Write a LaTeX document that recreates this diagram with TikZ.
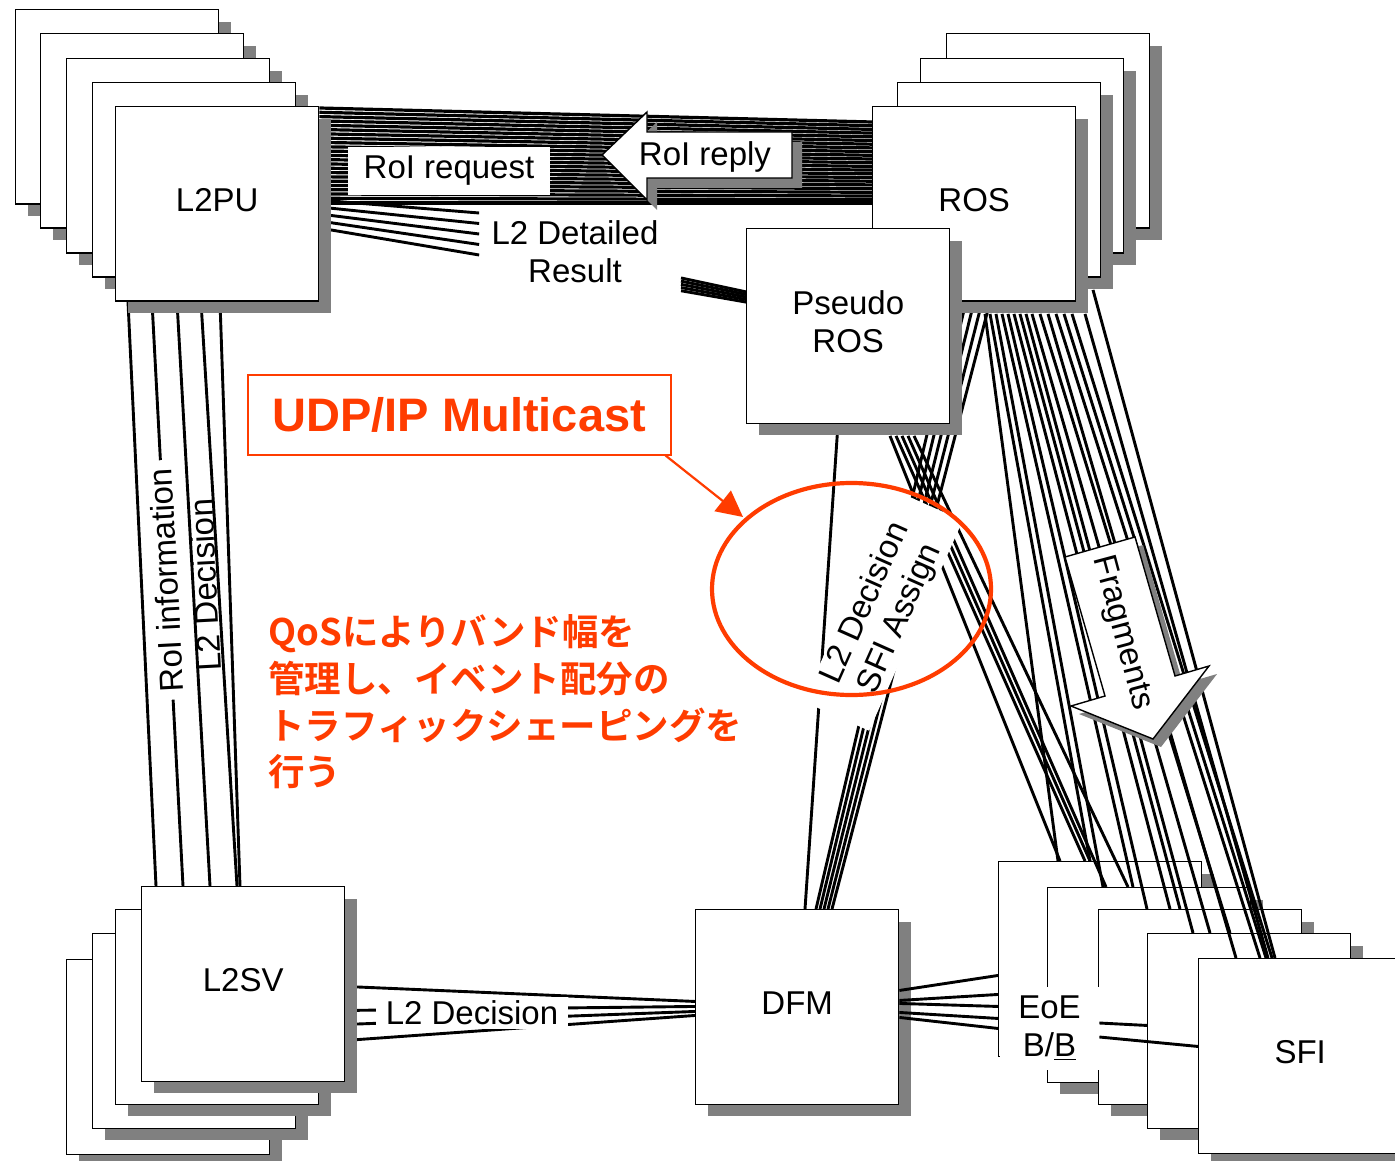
\documentclass[tikz,border=0pt]{standalone}
\usepackage{fontspec}
\setmainfont{Liberation Sans}
\newfontfamily\jpfont{Noto Sans CJK JP}[BoldFont={Noto Sans CJK JP Bold}]
\usetikzlibrary{calc,shadows,arrows.meta}
\definecolor{annot}{RGB}{255,60,0}
\definecolor{shgray}{RGB}{128,128,128}
\newcommand\lab{\fontsize{16.5pt}{19pt}\selectfont}
\newcommand\udpfont{\fontsize{23.5pt}{28pt}\selectfont\bfseries}
\newcommand\jpbig{\fontsize{18.25pt}{23.4pt}\selectfont\jpfont\bfseries}
\pgfdeclarelayer{bg}
\pgfdeclarelayer{wires}
\pgfdeclarelayer{front}
\pgfsetlayers{bg,wires,main,front}
\begin{document}
\begin{tikzpicture}[x=0.5pt,y=-0.5pt,
  box/.style={draw,line width=0.7pt,fill=white,minimum width=101.5pt,minimum height=97.25pt,inner sep=0pt,anchor=north west,font=\lab,text depth=4pt,
    drop shadow={shadow xshift=6pt,shadow yshift=-6pt,opacity=1,fill=shgray}},
  wire/.style={line width=1.45pt,black},
  bandwire/.style={line width=1.6pt,black},
  lbl/.style={font=\lab,inner sep=0pt},
  whitelbl/.style={lbl,fill=white},
  redtext/.style={text=annot,font=\jpbig,anchor=base west,inner sep=0pt}]
\useasboundingbox (0,0) rectangle (1395,1160);
\begin{pgfonlayer}{bg}
\fill[white] (0,0) rectangle (1395,1160);
\end{pgfonlayer}

% ---------- stacks of boxes ----------
\node[box] (l2pu4) at (15,9) {};
\node[box] (l2pu3) at (40,33) {};
\node[box] (l2pu2) at (66,58) {};
\node[box] (l2pu1) at (92,82) {};
\node[box] (L2PU) at (115,106) {L2PU};

\node[box] (ros3) at (946,33) {};
\node[box] (ros2) at (920,58) {};
\node[box] (ros1) at (897,82) {};
\node[box] (ROS) at (872,106) {ROS};
\node[box,align=center] (pros) at (746,228) {Pseudo\\ROS};

\node[box] (l2sv3) at (66,959) {};
\node[box] (l2sv2) at (92,933) {};
\node[box] (l2sv1) at (115,909) {};
\node[box] (L2SV) at (141,886) {L2SV};

\node[box] (DFM) at (695,909) {DFM};

% ---------- labels that interrupt wires ----------
\node[whitelbl,minimum width=101pt,minimum height=24pt] (rreq) at (449,171) {RoI request};
\node[lbl,align=center] (l2det) at (575,252) {L2 Detailed\\Result};
\node[whitelbl,rotate=93,inner xsep=4pt] (roiinfo) at (166,580) {RoI information};
\node[lbl,rotate=93] (l2dv) at (205,585) {L2 Decision};
\node[whitelbl,inner xsep=5pt,inner ysep=2pt] (l2dh) at (472,1013) {L2 Decision};

% ---------- wires behind everything ----------
\begin{pgfonlayer}{wires}
% L2PU <-> ROS
\foreach \i in {0,...,21}
  \draw[bandwire] ($(L2PU.north east)+(0,{2+4.3*\i})$) -- ($(ROS.north west)+(0,{16+3.7*\i})$);
\draw[bandwire] ($(L2PU.north east)+(0,97)$) -- ($(ROS.north west)+(0,97)$);
% L2 detailed result
\foreach \i in {0,...,4}
  \draw[wire] ($(L2PU.north east)+(0,{94+7*\i})$) -- ($(l2det.west)+(-12,{-39+10.5*\i})$);
\foreach \i in {0,...,4}
  \draw[wire] ($(pros.west)+(-65,{-48+3.2*\i})$) -- ($(pros.west)+(5,{-33+2.5*\i})$);
% L2PU -> L2SV
\foreach \a/\b in {13/15,37/42,62/69,86/96,105/99}
  \draw[wire] ($(L2PU.south west)+(\a,0)$) -- ($(L2SV.north west)+(\b,0)$);
% L2SV -> DFM
\foreach \a/\b in {2.5/-5.5,26.5/-0.5,40.5/4.5,56.5/8.5}
  \draw[wire] ($(L2SV.east)+(0,\a)$) -- ($(DFM.west)+(0,\b)$);
% DFM -> ROS (L2 Decision / SFI Assign)
\foreach \a/\b in {121/86,125/94,129/102,133/110,137/118}
  \draw[wire] ($(DFM.north west)+(\a,0)$) -- ($(ROS.south west)+(\b,0)$);
% Pseudo ROS -> DFM
\draw[wire] ($(pros.south west)+(92,0)$) -- ($(DFM.north west)+(110,0)$);
\end{pgfonlayer}

% ---------- SFI stack with incoming fragment wires ----------
\coordinate (tA) at (998,861);
\coordinate (tB) at (1047,887);
\coordinate (tC) at (1098,909);
\coordinate (tD) at (1147,933);
\coordinate (tE) at (1198,958);
\foreach \a/\b in {113/60,118/92}
  \draw[wire] ($(ROS.south west)+(\a,12)$) -- ($(tA)+(\b,0)$);
\foreach \a/\b in {144/62,150/87,156/92}
  \draw[wire] ($(pros.south west)+(\a,12)$) -- ($(tA)+(\b,0)$);
\node[box] (sfiA) at (tA) {};
\foreach \a/\b in {124/56,130/86}
  \draw[wire] ($(ROS.south west)+(\a,12)$) -- ($(tB)+(\b,0)$);
\foreach \a/\b in {162/59,168/81}
  \draw[wire] ($(pros.south west)+(\a,12)$) -- ($(tB)+(\b,0)$);
\node[box] (sfiB) at (tB) {};
\foreach \a/\b in {136/49,142/72,148/82}
  \draw[wire] ($(ROS.south west)+(\a,12)$) -- ($(tC)+(\b,0)$);
\node[box] (sfiC) at (tC) {};
\foreach \a/\b in {154/46,160/63,168/83}
  \draw[wire] ($(ROS.south west)+(\a,12)$) -- ($(tD)+(\b,0)$);
\node[box] (sfiD) at (tD) {};
\foreach \a/\b in {176/38,184/62,192/68,200/74}
  \draw[wire] ($(ROS.south west)+(\a,12)$) -- ($(tE)+(\b,0)$);
\draw[wire] ($(ros1.south west)+(196,12)$) -- ($(tE)+(77,0)$);
\draw[wire] ($(ROS.south west)+(213,12)$) -- ($(tE)+(70,0)$);
\node[box] (SFI) at (tE) {SFI};

% DFM -> EoE B/B
\foreach \a/\b in {-16.5/16.5,-6.5/35.5,-3.5/47.5,5.5/59.5,10.5/69.5}
  \draw[wire] ($(DFM.east)+(0,\a)$) -- ($(sfiA.west)+(0,\b)$);
\node[whitelbl,align=center,minimum width=49.5pt,minimum height=41.5pt] (eoe) at (1049.5,1028.5) {EoE\\B/\underline{B}};
\draw[wire] ($(eoe.east)+(0,-5.5)$) -- ($(sfiD.west)+(0,-5.5)$);
\draw[wire] ($(eoe.east)+(0,8.5)$) -- ($(SFI.west)+(0,-9.5)$);

% ---------- RoI reply arrow ----------
\fill[shgray,shift={(10,10)}] (602,155) -- (647,112) -- (647,132) -- (792,132) -- (792,178) -- (647,178) -- (647,200) -- cycle;
\draw[line width=0.7pt,fill=white] (602,155) -- (647,112) -- (647,132) -- (792,132) -- (792,178) -- (647,178) -- (647,200) -- cycle;
\node[lbl] (rrep) at (705,157) {RoI reply};

% ---------- Fragments arrow ----------
\fill[shgray,shift={(8,8)}] (1065,557) -- (1135,537) -- (1175,676) -- (1209,666) -- (1153,739) -- (1071,706) -- (1105,696) -- cycle;
\draw[line width=0.7pt,fill=white] (1065,557) -- (1135,537) -- (1175,676) -- (1209,666) -- (1153,739) -- (1071,706) -- (1105,696) -- cycle;
\node[lbl,rotate=-75] (frag) at (1122,633) {Fragments};

% ---------- L2 Decision / SFI Assign ----------
\node[whitelbl,align=center,rotate=66,minimum width=115pt,minimum height=36pt] (l2dsfi) at (883,611) {L2 Decision\\SFI Assign};

% ---------- red annotations ----------
\begin{pgfonlayer}{front}
\node[draw=annot,line width=0.75pt,minimum width=211.5pt,minimum height=40pt,inner sep=0pt,anchor=north west,text=annot,font=\udpfont] (udp) at (247,374) {UDP/IP Multicast};
\draw[annot,line width=2.1pt] (851.5,589) ellipse [x radius=69.75pt,y radius=53pt];
\coordinate (circ) at (743,517);
\draw[annot,line width=1.1pt,-{Triangle[length=13pt,width=13pt]}] ($(udp.south east)+(-6,0)$) -- (circ);
\node[redtext] (jp1) at (268,645) {QoSによりバンド幅を};
\node[redtext] (jp2) at (268,692) {管理し、イベント配分の};
\node[redtext] (jp3) at (268,739) {トラフィックシェーピングを};
\node[redtext] (jp4) at (268,785) {行う};
\end{pgfonlayer}
\end{tikzpicture}
\end{document}
